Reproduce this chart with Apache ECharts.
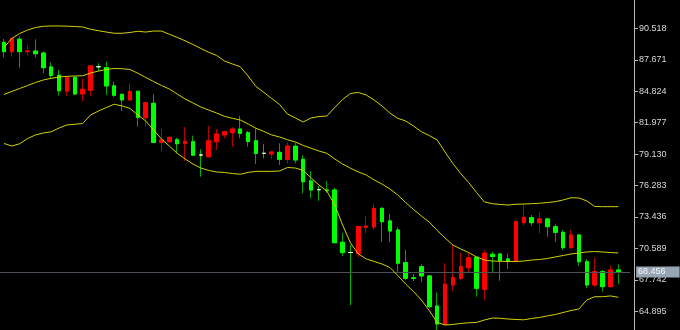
<!DOCTYPE html>
<html>
<head>
<meta charset="utf-8">
<script src="https://cdn.jsdelivr.net/npm/echarts@6/dist/echarts.min.js"></script>
<style>
html,body{margin:0;padding:0;background:#000;}
#c{width:680px;height:330px;}
</style>
</head>
<body>
<div id="c"></div>
<script>
// ---- data ----
const lastPrice = 68.456;
const tickLabels = [64.895, 67.742, 70.589, 73.436, 76.283, 79.130, 81.977, 84.824, 87.671, 90.518];

const opens = [89.25, 88.40, 89.53, 88.40, 88.46, 88.28, 87.02, 86.27, 84.84, 86.07,
  84.57, 84.91, 87.04, 86.97, 85.31, 84.54, 84.03, 84.82, 82.43, 83.73,
  80.20, 80.25, 80.43, 80.11, 80.25, 79.05, 78.90, 80.25, 80.86, 81.07,
  81.40, 81.07, 80.34, 79.20, 79.14, 79.29, 78.66, 79.84, 78.66, 76.70,
  75.91, 75.88, 75.88, 71.15, 70.22, 70.13, 72.50, 72.53, 74.22, 73.08,
  72.26, 69.30, 67.93, 68.94, 68.10, 65.38, 63.71, 67.28, 67.89, 68.85,
  69.79, 66.89, 70.06, 70.09, 69.64, 69.48, 72.92, 73.37, 72.92, 73.26,
  72.56, 72.05, 70.66, 71.81, 69.39, 67.28, 68.49, 67.13, 68.64];
const closes = [88.40, 89.58, 88.40, 88.46, 88.22, 86.95, 86.25, 84.87, 86.05, 84.57,
  85.00, 87.11, 87.04, 85.30, 84.46, 84.03, 84.80, 82.46, 83.78, 80.18,
  80.41, 80.65, 80.07, 80.29, 79.03, 79.05, 80.33, 80.95, 81.16, 81.40,
  81.01, 80.27, 79.20, 79.20, 79.32, 78.66, 79.86, 78.60, 76.63, 75.88,
  75.91, 75.82, 71.11, 70.21, 70.22, 72.58, 72.62, 74.22, 73.01, 72.17,
  69.25, 67.89, 67.87, 68.10, 65.32, 63.75, 67.35, 67.96, 68.94, 69.75,
  66.98, 70.15, 69.86, 69.48, 69.41, 73.01, 73.41, 72.92, 73.26, 72.56,
  72.05, 70.66, 71.81, 69.39, 67.28, 68.49, 67.13, 68.64, 68.456];
const lows = [87.89, 87.95, 86.95, 88.06, 87.89, 86.45, 85.95, 84.42, 84.42, 84.46,
  83.89, 84.39, 86.61, 84.48, 84.30, 83.03, 83.96, 81.61, 81.61, 80.16,
  79.35, 80.16, 79.20, 78.51, 78.96, 77.09, 78.82, 79.50, 80.56, 79.80,
  80.56, 79.80, 78.23, 78.75, 78.66, 78.14, 78.28, 78.30, 75.58, 75.13,
  74.91, 75.66, 71.06, 69.91, 65.47, 69.79, 71.96, 72.26, 71.20, 71.20,
  68.49, 67.73, 67.64, 67.58, 65.17, 63.15, 63.66, 66.74, 67.73, 68.40,
  66.22, 65.92, 68.49, 67.67, 68.73, 69.39, 72.67, 72.65, 71.96, 71.65,
  71.20, 70.45, 70.60, 69.03, 66.98, 67.13, 66.68, 67.04, 67.35];
const highs = [89.55, 89.73, 89.82, 88.99, 89.52, 88.44, 87.42, 86.74, 86.20, 86.20,
  85.97, 87.15, 87.35, 87.50, 85.68, 84.63, 85.54, 84.84, 83.87, 84.54,
  81.40, 80.71, 80.62, 81.58, 80.80, 79.55, 81.69, 81.40, 81.27, 81.58,
  82.58, 81.22, 81.47, 80.02, 79.44, 80.11, 80.25, 80.16, 79.05, 77.60,
  76.24, 76.70, 76.09, 71.99, 70.90, 72.62, 73.53, 74.59, 74.32, 73.71,
  72.50, 70.45, 68.28, 69.16, 68.19, 66.60, 69.25, 70.90, 70.21, 70.15,
  69.84, 70.45, 70.30, 70.21, 70.13, 73.17, 74.59, 73.62, 73.86, 73.37,
  72.78, 72.26, 72.26, 71.87, 69.64, 69.75, 68.64, 69.03, 69.16];

const bandUpper = [88.78, 89.60, 90.05, 90.36, 90.59, 90.70, 90.73, 90.73, 90.71, 90.68,
  90.64, 90.43, 90.30, 90.18, 90.07, 90.07, 90.14, 90.25, 90.18, 90.27,
  90.27, 89.98, 89.69, 89.39, 89.05, 88.69, 88.35, 88.06, 87.56, 87.29,
  87.04, 86.20, 85.25, 84.71, 84.16, 83.62, 82.76, 82.40, 82.04, 82.40,
  82.53, 82.58, 83.35, 84.07, 84.62, 84.71, 84.48, 84.03, 83.49, 82.85,
  82.37, 82.13, 81.67, 81.16, 80.81, 80.41, 79.32, 78.28, 77.36, 76.56,
  75.66, 74.80, 74.64, 74.57, 74.52, 74.59, 74.61, 74.64, 74.68, 74.75,
  74.82, 74.98, 75.18, 75.16, 74.89, 74.39, 74.37, 74.37, 74.37];
const bandMiddle = [84.53, 84.80, 85.07, 85.34, 85.61, 85.84, 85.99, 86.11, 86.17, 86.20,
  86.22, 86.47, 86.65, 86.79, 86.88, 86.86, 86.79, 86.45, 86.07, 85.70,
  85.34, 85.02, 84.57, 84.12, 83.76, 83.39, 83.12, 82.85, 82.55, 82.37,
  82.22, 81.86, 81.47, 81.18, 80.86, 80.68, 80.43, 80.23, 79.91, 79.66,
  79.41, 79.20, 78.69, 78.23, 77.85, 77.51, 77.24, 76.79, 76.42, 75.97,
  75.43, 74.75, 74.12, 73.53, 72.98, 72.22, 71.54, 70.90, 70.54, 70.22,
  69.82, 69.54, 69.45, 69.43, 69.41, 69.41, 69.45, 69.54, 69.59, 69.68,
  69.82, 69.95, 70.09, 70.18, 70.27, 70.31, 70.27, 70.22, 70.18];
const bandLower = [80.09, 79.86, 80.07, 80.54, 80.86, 81.04, 81.15, 81.49, 81.77, 81.83,
  81.90, 82.67, 83.03, 83.35, 83.64, 83.49, 83.26, 82.67, 82.13, 81.31,
  80.50, 79.86, 79.20, 78.69, 78.23, 77.87, 77.65, 77.51, 77.47, 77.37,
  77.31, 77.47, 77.57, 77.57, 77.57, 77.60, 77.92, 77.87, 77.65, 76.97,
  76.33, 75.79, 74.52, 72.71, 71.08, 70.09, 69.64, 69.41, 69.18, 68.87,
  68.14, 67.37, 66.69, 65.92, 64.97, 63.89, 63.66, 63.71, 63.80, 63.86,
  63.89, 64.11, 64.29, 64.27, 64.20, 64.16, 64.13, 64.25, 64.34, 64.48,
  64.61, 64.79, 64.97, 65.11, 65.92, 66.22, 66.22, 66.29, 66.17];

// categories: one per bar, plus one empty slot (chart shift before the price scale)
const categories = [];
for (let i = 0; i < opens.length + 1; i++) categories.push(String(i + 1));

// ---- build series data ----
const ohlc = opens.map((o, i) => [o, closes[i], lows[i], highs[i]]);
const bodies = opens.map((o, i) => [o, closes[i], Math.min(o, closes[i]), Math.max(o, closes[i])]);

const chart = echarts.init(document.getElementById('c'), null, {renderer: 'canvas'});
const bandStyle = {color: '#d2d200', width: 1};
chart.setOption({
  backgroundColor: '#000000',
  animation: false,
  grid: {left: 0, right: 49.9, top: 0, bottom: 0, outerBoundsMode: 'none'},
  xAxis: {
    type: 'category', data: categories, boundaryGap: true,
    axisLine: {show: false}, axisTick: {show: false}, axisLabel: {show: false}, splitLine: {show: false}
  },
  yAxis: {
    type: 'value', position: 'right', offset: 4,
    min: 63.207, max: 93.08, scale: true,
    splitLine: {show: false},
    axisLine: {show: true, lineStyle: {color: '#b8b8b8', width: 1}},
    axisTick: {show: true, length: 4, customValues: tickLabels, lineStyle: {color: '#b8b8b8'}},
    axisLabel: {
      show: true, customValues: tickLabels, margin: 5,
      color: '#d8d8d8', fontSize: 9, fontFamily: 'Liberation Sans',
      formatter: v => v.toFixed(3)
    }
  },
  series: [
    {
      name: 'wicks', type: 'candlestick', data: ohlc, barWidth: 4, z: 2,
      itemStyle: {
        color: '#ff0000', color0: '#00ff00',
        borderColor: '#b40000', borderColor0: '#00a400', borderColorDoji: '#00b400',
        borderWidth: 1
      }
    },
    {
      name: 'bodies', type: 'candlestick', data: bodies, barWidth: 4, z: 3,
      itemStyle: {
        color: '#ff0000', color0: '#00ff00',
        borderColor: '#ff0000', borderColor0: '#00ff00', borderColorDoji: '#ffffff',
        borderWidth: 1
      },
      markLine: {
        silent: true, symbol: ['none', 'none'], animation: false,
        lineStyle: {color: '#4c5159', width: 1, type: 'solid'},
        label: {
          show: true, position: 'end', distance: 6,
          formatter: () => lastPrice.toFixed(3),
          color: '#f4f6f8', backgroundColor: '#97a5b4',
          fontSize: 9, fontFamily: 'Liberation Sans', padding: [1, 14, 1, 2]
        },
        data: [{yAxis: lastPrice}]
      }
    },
    {name: 'upper', type: 'line', data: bandUpper, showSymbol: false, lineStyle: bandStyle, z: 5, silent: true},
    {name: 'middle', type: 'line', data: bandMiddle, showSymbol: false, lineStyle: bandStyle, z: 5, silent: true},
    {name: 'lower', type: 'line', data: bandLower, showSymbol: false, lineStyle: bandStyle, z: 5, silent: true}
  ]
});
</script>
</body>
</html>
